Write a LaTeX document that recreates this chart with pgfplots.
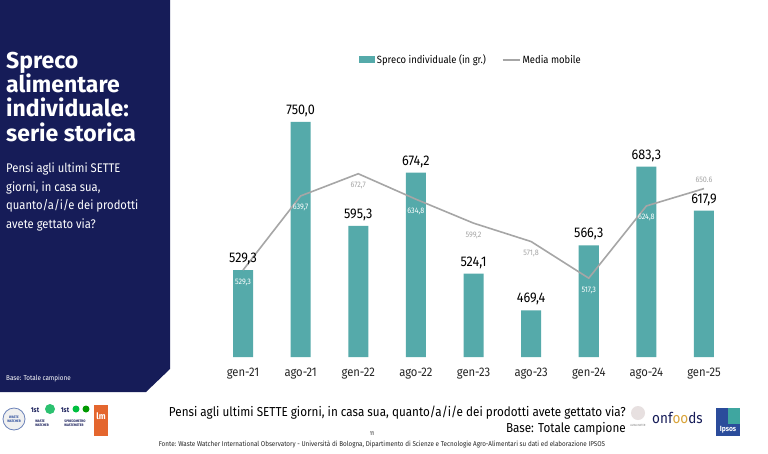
\documentclass[border=0pt]{standalone}
\usepackage{pgfplots}
\pgfplotsset{compat=1.18}
\usepackage{fontspec}
\setmainfont{Fira Sans}[FakeStretch=0.9]
\newfontfamily\titlefont{Fira Sans}
\definecolor{navy}{HTML}{161C58}
\definecolor{sprecoteal}{HTML}{55AAAA}
\definecolor{mmgray}{HTML}{A6A6A6}
\definecolor{ipsosblue}{HTML}{2B4C9B}
\definecolor{ipsosteal}{HTML}{3FA6A0}
\definecolor{lmorange}{HTML}{E4662E}
\definecolor{gold}{HTML}{D9A43A}

\begin{document}
\begin{tikzpicture}
\path[use as bounding box, fill=white] (0,0) rectangle (768pt,-453pt);

% left panel
\fill[navy] (0,0) -- (170pt,0) -- (170pt,-369pt) -- (146pt,-392pt) -- (0,-392pt) -- cycle;
\begin{scope}[every node/.style={anchor=base west, inner sep=0, text=white}]
\node[font=\titlefont\fontsize{23}{25}\selectfont\bfseries] at (6pt,-68pt) {Spreco};
\node[font=\titlefont\fontsize{23}{25}\selectfont\bfseries] at (6pt,-92pt) {alimentare};
\node[font=\titlefont\fontsize{23}{25}\selectfont\bfseries] at (6pt,-116pt) {individuale:};
\node[font=\titlefont\fontsize{23}{25}\selectfont\bfseries] at (6pt,-141pt) {serie storica};
\node[font=\fontsize{12.5}{15}\selectfont] at (6pt,-172pt) {Pensi agli ultimi SETTE};
\node[font=\fontsize{12.5}{15}\selectfont] at (6pt,-191pt) {giorni, in casa sua,};
\node[font=\fontsize{12.5}{15}\selectfont] at (6pt,-209.5pt) {quanto/a/i/e dei prodotti};
\node[font=\fontsize{12.5}{15}\selectfont] at (6pt,-228pt) {avete gettato via?};
\node[font=\fontsize{7}{8}\selectfont] at (6pt,-380pt) {Base: Totale campione};
\end{scope}

% footer texts
\node[anchor=base east, inner sep=0, font=\fontsize{13}{15}\selectfont] at (626pt,-416pt) {Pensi agli ultimi SETTE giorni, in casa sua, quanto/a/i/e dei prodotti avete gettato via?};
\node[anchor=base east, inner sep=0, font=\fontsize{13}{15}\selectfont] at (626pt,-432pt) {Base: Totale campione};
\node[anchor=base, inner sep=0, font=\fontsize{5.5}{7}\selectfont] at (372pt,-435pt) {11};
\node[anchor=base, inner sep=0, font=\fontsize{7}{8}\selectfont, text=black!85] at (382pt,-446pt) {Fonte: Waste Watcher International Observatory - Università di Bologna, Dipartimento di Scienze e Tecnologie Agro-Alimentari su dati ed elaborazione IPSOS};

% left logos
\filldraw[fill=black!6, draw=ipsosblue!70, line width=0.8pt] (14pt,-419pt) circle (11pt);
\node[font=\fontsize{3.5}{4}\selectfont\bfseries, text=ipsosblue, align=center] at (14pt,-419pt) {WASTE\\WATCHER};
\node[font=\fontsize{7}{8}\selectfont\bfseries, text=navy, inner sep=0] at (35pt,-410pt) {1st};
\fill[ipsosteal!70!green] (50pt,-409pt) circle (5pt);
\node[font=\fontsize{3.5}{4}\selectfont\bfseries, text=navy, align=left, inner sep=0] at (42pt,-423pt) {WASTE\\WATCHER};
\node[font=\fontsize{7}{8}\selectfont\bfseries, text=navy, inner sep=0] at (65pt,-410pt) {1st};
\fill[green!50!teal] (76pt,-409pt) circle (3.5pt);
\fill[green!60!black] (86pt,-409pt) circle (3.5pt);
\node[font=\fontsize{3.5}{4}\selectfont\bfseries, text=navy, align=left, inner sep=0] at (75pt,-423pt) {SPRECOMETRO\\WASTEMETER};
\fill[lmorange] (94pt,-405pt) rectangle (108pt,-436pt);
\node[font=\fontsize{9}{10}\selectfont\bfseries, text=white, inner sep=0] at (101pt,-416pt) {lm};

% right logos
\fill[red!20!black!12] (638pt,-413pt) circle (7pt);
\node[font=\fontsize{3}{4}\selectfont, text=black!50, inner sep=0] at (638pt,-425pt) {ALMA MATER};
\node[anchor=base west, inner sep=0, font=\fontsize{15}{17}\selectfont, text=navy] at (652pt,-423pt) {onf\textcolor{gold}{oo}ds};
\fill[ipsosblue] (716pt,-408pt) rectangle (740pt,-436pt);
\fill[ipsosteal] (728pt,-408pt) rectangle (740pt,-424pt);
\node[inner sep=0, font=\fontsize{7.5}{8}\selectfont\bfseries, text=white] at (728pt,-430pt) {Ipsos};

\begin{axis}[
  at={(214.2pt,-357pt)}, anchor=south west,
  scale only axis, width=518.6pt, height=268.8pt,
  xmin=-0.5, xmax=8.5, ymin=400, ymax=800,
  axis line style={draw=none},
  ytick=\empty,
  xtick={0,...,8},
  xticklabels={gen-21,ago-21,gen-22,ago-22,gen-23,ago-23,gen-24,ago-24,gen-25},
  major tick length=0pt,
  xticklabel style={font=\fontsize{12.5}{14}\selectfont, text=black!85, yshift=-7pt},
  legend style={at={(0.495,1.105)}, anchor=center, draw=none, fill=none,
    legend columns=2, font=\fontsize{10.5}{12}\selectfont,
    /tikz/every even column/.append style={column sep=14pt}},
  /pgf/number format/use comma,
  /pgf/number format/fixed,
  /pgf/number format/fixed zerofill,
  /pgf/number format/precision=1,
  /pgf/number format/1000 sep={},
  /pgf/number format/assume math mode=true,
]
% Spreco individuale (in gr.)
\addplot[ybar, bar width=20pt, fill=sprecoteal, draw=none,
  nodes near coords,
  every node near coord/.append style={font=\fontsize{14}{16}\selectfont, text=black, anchor=center, yshift=11pt},
  legend image code/.code={\fill[sprecoteal] (0pt,-3.5pt) rectangle (16pt,3.5pt);}]
  coordinates {(0,529.3) (1,750.0) (2,595.3) (3,674.2) (4,524.1) (5,469.4) (6,566.3) (7,683.3) (8,617.9)};
% Media mobile
\addplot[sharp plot, mmgray, line width=1.6pt, mark=none]
  coordinates {(0,529.3) (1,639.7) (2,672.7) (3,634.8) (4,599.2) (5,571.8) (6,517.3) (7,624.8) (8,650.6)};
% labels of the moving average
\addplot[draw=none, mark=none, forget plot, nodes near coords,
  every node near coord/.append style={font=\fontsize{8}{9}\selectfont, text=white, anchor=center, yshift=-12pt}]
  coordinates {(0,529.3) (1,639.7) (3,634.8) (6,517.3) (7,624.8)};
\addplot[draw=none, mark=none, forget plot, nodes near coords,
  every node near coord/.append style={font=\fontsize{8}{9}\selectfont, text=mmgray, anchor=center, yshift=-12pt}]
  coordinates {(2,672.7) (4,599.2) (5,571.8)};
\addplot[draw=none, mark=none, forget plot, nodes near coords={650.6},
  every node near coord/.append style={font=\fontsize{8}{9}\selectfont, text=mmgray, anchor=center, yshift=9pt}]
  coordinates {(8,650.6)};
\legend{Spreco individuale (in gr.), Media mobile}
\end{axis}
\end{tikzpicture}
\end{document}
